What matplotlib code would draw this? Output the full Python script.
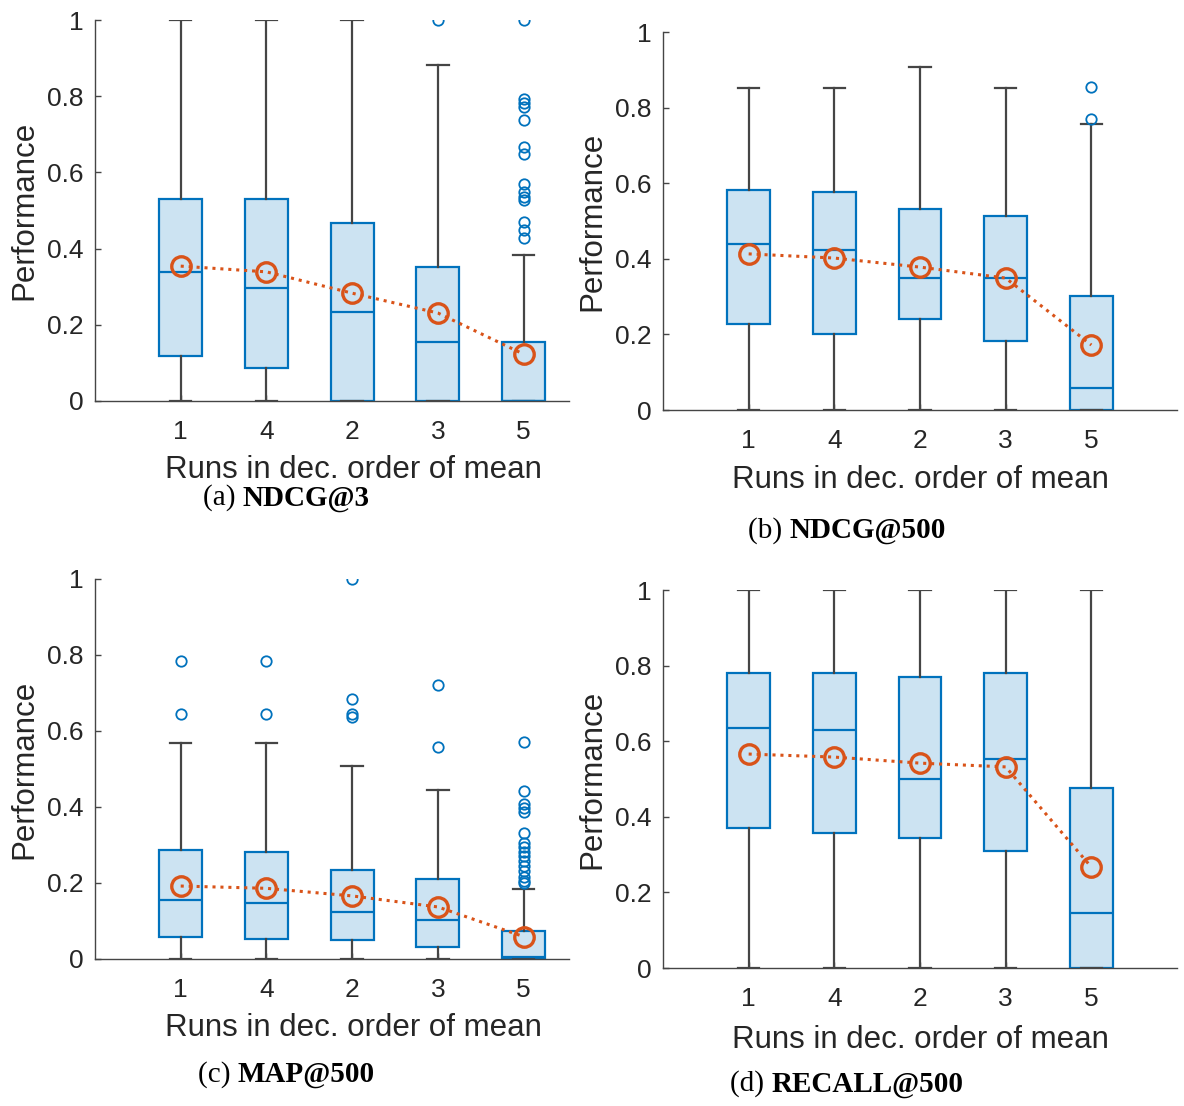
import matplotlib
matplotlib.use("Agg")
import matplotlib.pyplot as plt

plt.rcParams['font.family'] = ['Liberation Sans', 'DejaVu Sans']

# run order (decreasing mean)
runs = ['1', '4', '2', '3', '5']

# (a) NDCG@3
ndcg3_lo = [0, 0, 0, 0, 0]
ndcg3_q1 = [0.118, 0.087, 0.0, 0.0, 0.0]
ndcg3_med = [0.339, 0.297, 0.234, 0.155, 0.0]
ndcg3_q3 = [0.530, 0.530, 0.467, 0.352, 0.155]
ndcg3_hi = [1.0, 1.0, 1.0, 0.882, 0.383]
ndcg3_mean = [0.354, 0.339, 0.283, 0.231, 0.123]
ndcg3_out = [[], [], [], [1.0],
             [1.0, 0.793, 0.782, 0.771, 0.737, 0.667, 0.648, 0.570,
              0.549, 0.536, 0.528, 0.470, 0.449, 0.428]]

# (b) NDCG@500
ndcg500_lo = [0, 0, 0, 0, 0]
ndcg500_q1 = [0.228, 0.201, 0.241, 0.183, 0.0]
ndcg500_med = [0.439, 0.423, 0.349, 0.349, 0.059]
ndcg500_q3 = [0.582, 0.577, 0.532, 0.513, 0.302]
ndcg500_hi = [0.852, 0.852, 0.907, 0.852, 0.757]
ndcg500_mean = [0.413, 0.402, 0.378, 0.349, 0.172]
ndcg500_out = [[], [], [], [], [0.854, 0.770]]

# (c) MAP@500
map500_lo = [0, 0, 0, 0, 0]
map500_q1 = [0.057, 0.053, 0.050, 0.032, 0.0]
map500_med = [0.154, 0.148, 0.124, 0.103, 0.005]
map500_q3 = [0.287, 0.281, 0.234, 0.210, 0.074]
map500_hi = [0.569, 0.569, 0.508, 0.444, 0.183]
map500_mean = [0.192, 0.186, 0.166, 0.137, 0.059]
map500_out = [[0.784, 0.645], [0.784, 0.645], [0.999, 0.685, 0.645, 0.638],
              [0.720, 0.558],
              [0.570, 0.442, 0.407, 0.397, 0.386, 0.331, 0.304, 0.294, 0.282,
               0.271, 0.258, 0.245, 0.232, 0.217, 0.206, 0.199]]

# (d) RECALL@500
recall500_lo = [0, 0, 0, 0, 0]
recall500_q1 = [0.370, 0.357, 0.344, 0.310, 0.0]
recall500_med = [0.635, 0.630, 0.500, 0.553, 0.146]
recall500_q3 = [0.780, 0.780, 0.770, 0.780, 0.476]
recall500_hi = [1.0, 1.0, 1.0, 1.0, 1.0]
recall500_mean = [0.566, 0.558, 0.542, 0.532, 0.267]
recall500_out = [[], [], [], [], []]

captions = [('(a)', 'NDCG@3'), ('(b)', 'NDCG@500'),
            ('(c)', 'MAP@500'), ('(d)', 'RECALL@500')]

BLUE = '#0072BD'
FILL = '#cce3f2'
ORANGE = '#D95319'
GRAY = '#454545'

W, H = 1184, 1106
fig = plt.figure(figsize=(W / 100, H / 100), dpi=100)
renderer = fig.canvas.get_renderer()

# axes boxes in pixels: left, right, top, bottom
boxes = [(95, 569, 20, 401), (663, 1177, 32, 410),
         (95, 569, 579, 959), (663, 1177, 590, 968)]
xmaxes = [5.53, 6.0, 5.53, 6.0]
# x-label centres in pixels
xlab_pos = [(353, 470), (920, 480), (353, 1028), (920, 1040)]
# caption centres in pixels
caption_pos = [(286, 498), (847, 531), (286, 1075), (847, 1084)]

series = [
    (ndcg3_lo, ndcg3_q1, ndcg3_med, ndcg3_q3, ndcg3_hi, ndcg3_mean, ndcg3_out),
    (ndcg500_lo, ndcg500_q1, ndcg500_med, ndcg500_q3, ndcg500_hi, ndcg500_mean, ndcg500_out),
    (map500_lo, map500_q1, map500_med, map500_q3, map500_hi, map500_mean, map500_out),
    (recall500_lo, recall500_q1, recall500_med, recall500_q3, recall500_hi, recall500_mean, recall500_out),
]

for i, (lo, q1, med, q3, hi, mean, out) in enumerate(series):
    l, r, t, b = boxes[i]
    ax = fig.add_axes([l / W, 1 - b / H, (r - l) / W, (b - t) / H])
    stats = []
    for k in range(len(runs)):
        stats.append(dict(whislo=lo[k], q1=q1[k], med=med[k], q3=q3[k],
                          whishi=hi[k], fliers=out[k], label=runs[k]))
    pos = list(range(1, len(runs) + 1))
    ax.bxp(stats, positions=pos, widths=0.5, patch_artist=True,
           showfliers=True,
           boxprops=dict(facecolor=FILL, edgecolor=BLUE, linewidth=1.6),
           medianprops=dict(color=BLUE, linewidth=1.6),
           whiskerprops=dict(color=GRAY, linewidth=1.6),
           capprops=dict(color=GRAY, linewidth=1.6),
           capwidths=0.25,
           flierprops=dict(marker='o', markerfacecolor='none',
                           markeredgecolor=BLUE, markersize=7.5,
                           markeredgewidth=1.3))
    ax.plot(pos, mean, color=ORANGE, linestyle=(0, (1, 1.6)), linewidth=2.2,
            marker='o', markersize=14, markerfacecolor='none',
            markeredgewidth=2.4, zorder=5)

    ax.set_xlim(0, xmaxes[i])
    ax.set_ylim(0, 1)
    ax.set_yticks([0, 0.2, 0.4, 0.6, 0.8, 1])
    ax.set_yticklabels(['0', '0.2', '0.4', '0.6', '0.8', '1'])
    ax.set_xticks(pos)
    ax.set_xticklabels(runs)
    for s in ['top', 'right']:
        ax.spines[s].set_visible(False)
    for s in ['left', 'bottom']:
        ax.spines[s].set_color(GRAY)
        ax.spines[s].set_linewidth(1.0)
    ax.tick_params(direction='in', length=4, width=1, colors=GRAY,
                   labelsize=19, labelcolor='#262626')
    ax.tick_params(axis='x', pad=13.5)
    ax.tick_params(axis='y', pad=8.5)

    lx, ly = xlab_pos[i]
    ax.set_xlabel('Runs in dec. order of mean', fontsize=22.5, color='#262626')
    ax.xaxis.set_label_coords((lx - l) / (r - l), -(ly - b) / (b - t))
    ax.xaxis.label.set_va('center')
    ax.set_ylabel('Performance', fontsize=22.5, color='#262626', labelpad=5)

    # caption: regular "(x) " + bold metric, centred as a whole
    cx, cy = caption_pos[i]
    t1 = fig.text(0, 1 - cy / H, captions[i][0] + ' ', family='Liberation Serif',
                  fontsize=21, ha='left', va='center')
    t2 = fig.text(0, 1 - cy / H, captions[i][1], family='Liberation Serif',
                  fontsize=21, fontweight='bold', ha='left', va='center')
    w1 = t1.get_window_extent(renderer).width
    w2 = t2.get_window_extent(renderer).width
    x0 = cx - (w1 + w2) / 2
    t1.set_x(x0 / W)
    t2.set_x((x0 + w1) / W)

fig.savefig('out.png', dpi=100)
